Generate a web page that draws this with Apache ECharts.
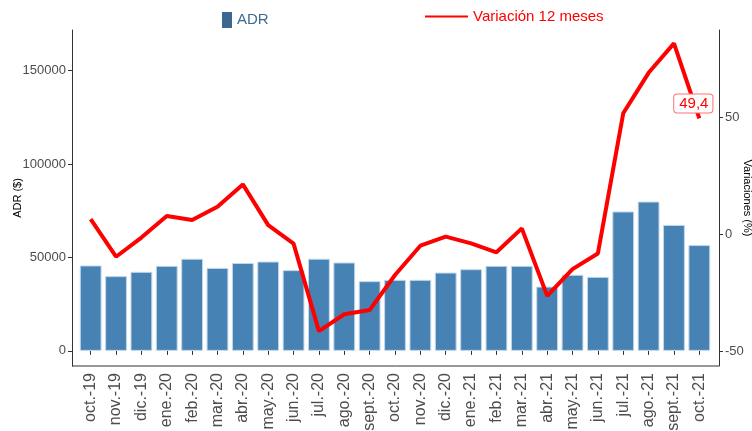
<!DOCTYPE html>
<html>
<head>
<meta charset="utf-8">
<script src="https://cdn.jsdelivr.net/npm/echarts@6/dist/echarts.min.js"></script>
<style>
  html, body { margin: 0; padding: 0; background: #fff; }
  #chart { width: 752px; height: 431px; }
</style>
</head>
<body>
<div id="chart"></div>
<script>
// Data
const months = ['oct.-19', 'nov.-19', 'dic.-19', 'ene.-20', 'feb.-20', 'mar.-20', 'abr.-20', 'may.-20',
    'jun.-20', 'jul.-20', 'ago.-20', 'sept.-20', 'oct.-20', 'nov.-20', 'dic.-20', 'ene.-21', 'feb.-21',
    'mar.-21', 'abr.-21', 'may.-21', 'jun.-21', 'jul.-21', 'ago.-21', 'sept.-21', 'oct.-21'];
const adr = [45700, 40000, 42300, 45500, 49300, 44400, 47000, 47800, 43200, 49300, 47300, 37300,
    38000, 38000, 41900, 43700, 45500, 45500, 34400, 40700, 39600, 74600, 79900, 67400, 56600];
const variacion = [6.4, -9.7, -1.5, 7.7, 6.0, 11.7, 21.2, 3.8, -4.1, -41.5, -34.3, -32.5,
    -17.5, -5.0, -1.1, -4.0, -7.8, 2.4, -26.4, -15.0, -8.3, 51.6, 68.9, 81.5, 49.4];
const leftTicks = [0, 50000, 100000, 150000];
const rightTicks = [-50, 0, 50];

const font = 'Liberation Sans, Arial, sans-serif';
const chart = echarts.init(document.getElementById('chart'));

// last point gets the boxed value label
const lineData = variacion.map(function (v, i) {
    if (i !== variacion.length - 1) return v;
    return {
        value: v,
        label: {
            show: true,
            position: 'top',
            distance: 6,
            offset: [-6, 0],
            formatter: String(v).replace('.', ','),
            color: '#ff0000',
            fontSize: 15,
            fontFamily: font,
            backgroundColor: '#ffffff',
            borderColor: '#ff7070',
            borderWidth: 1,
            borderRadius: 3,
            padding: [2, 4, 1, 5]
        }
    };
});

var option = {
    animation: false,
    grid: {
        left: 78,
        right: 40,
        top: 30,
        bottom: 65,
        outerBoundsMode: 'none'
    },
    legend: [
        {
            data: ['ADR'],
            left: 217,
            top: 7,
            icon: 'rect',
            itemWidth: 10,
            itemHeight: 16,
            itemStyle: { color: '#3b6893', borderWidth: 0 },
            textStyle: { color: '#3d6a95', fontSize: 15, fontFamily: font }
        },
        {
            data: ['Variación 12 meses'],
            left: 420,
            top: 4,
            icon: 'rect',
            itemWidth: 43,
            itemHeight: 2,
            textStyle: { color: '#ff0000', fontSize: 15, fontFamily: font }
        }
    ],
    graphic: [
        {
            type: 'line',
            shape: { x1: 72, y1: 366, x2: 719, y2: 366 },
            style: { stroke: '#333333', lineWidth: 1 },
            silent: true
        }
    ],
    xAxis: {
        type: 'category',
        data: months,
        boundaryGap: true,
        axisLine: { show: false },
        axisTick: { show: true, alignWithLabel: true, length: 4, lineStyle: { color: '#333333' } },
        axisLabel: {
            interval: 0,
            rotate: 90,
            margin: 7,
            color: '#4d4d4d',
            fontSize: 16,
            fontFamily: font
        }
    },
    yAxis: [
        {
            type: 'value',
            min: -8100,
            max: 171700,
            offset: 6,
            name: 'ADR ($)',
            nameLocation: 'middle',
            nameGap: 49,
            nameMoveOverlap: false,
            nameTextStyle: { color: '#000000', fontSize: 11, fontFamily: font },
            splitLine: { show: false },
            axisLine: { show: true, lineStyle: { color: '#333333' } },
            axisTick: { show: true, length: 4, customValues: leftTicks, lineStyle: { color: '#333333' } },
            axisLabel: {
                customValues: leftTicks,
                formatter: function (v) { return String(v); },
                margin: 6,
                color: '#4d4d4d',
                fontSize: 13,
                fontFamily: font
            }
        },
        {
            type: 'value',
            min: -56.4,
            max: 87.2,
            offset: 7,
            position: 'right',
            name: 'Variaciones (%)',
            nameLocation: 'middle',
            nameRotate: -90,
            nameGap: 23,
            nameMoveOverlap: false,
            nameTextStyle: { color: '#000000', fontSize: 11, fontFamily: font },
            splitLine: { show: false },
            axisLine: { show: true, lineStyle: { color: '#333333' } },
            axisTick: { show: true, length: 4, customValues: rightTicks, lineStyle: { color: '#333333' } },
            axisLabel: {
                customValues: rightTicks,
                formatter: function (v) { return String(v); },
                margin: 6,
                color: '#4d4d4d',
                fontSize: 13,
                fontFamily: font
            }
        }
    ],
    series: [
        {
            name: 'ADR',
            type: 'bar',
            yAxisIndex: 0,
            data: adr,
            barWidth: '86%',
            itemStyle: {
                color: '#4682b4',
                borderColor: '#c3d7ea',
                borderWidth: 1
            }
        },
        {
            name: 'Variación 12 meses',
            type: 'line',
            yAxisIndex: 1,
            data: lineData,
            symbol: 'circle',
            showSymbol: true,
            symbolSize: 0,
            lineStyle: { color: '#ff0000', width: 4 },
            itemStyle: { color: '#ff0000' }
        }
    ]
};
chart.setOption(option);
</script>
</body>
</html>
